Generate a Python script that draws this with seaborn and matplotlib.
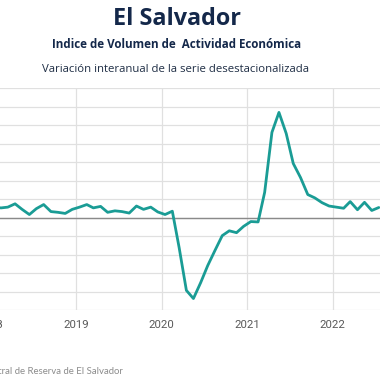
"""
El Salvador - IVAE, variacion interanual (serie desestacionalizada)
"""
import pandas as pd
import numpy as np
import matplotlib
matplotlib.use("Agg")
import matplotlib.pyplot as plt
import matplotlib.dates as mdates
import seaborn as sns

# monthly data, Jan 2018 - Jul 2022 (% y/y)
start_month = "2018-01-01"
ivae_yoy = [
    2.7, 2.6, 2.8, 3.7, 2.2, 0.8, 2.4, 3.5, 1.6, 1.4, 1.1, 2.2,        # 2018
    2.8, 3.5, 2.6, 3.0, 1.4, 1.8, 1.6, 1.2, 3.1, 2.2, 2.8, 1.5,        # 2019
    0.8, 1.7, -8.1, -19.7, -21.9, -17.6, -13.0, -8.9, -4.9, -3.6, -4.1, -2.4,  # 2020
    -1.1, -1.2, 6.8, 23.0, 28.4, 22.7, 14.6, 10.8, 6.2, 5.3, 4.0, 3.1,  # 2021
    2.8, 2.5, 4.3, 2.1, 4.1, 1.9, 2.7,                                 # 2022
]
year_ticks = [2018, 2019, 2020, 2021, 2022]
y_ticks = [-25, -20, -15, -10, -5, 0, 5, 10, 15, 20, 25, 30, 35]

title = "El Salvador"
subtitle = "Indice de Volumen de  Actividad Económica"
subtitle2 = "Variación interanual de la serie desestacionalizada"
source = "Fuente: Banco Central de Reserva de El Salvador"

# points plotted mid-month
dates = pd.date_range(start_month, periods=len(ivae_yoy), freq="MS") + pd.Timedelta(days=15)
df = pd.DataFrame({"fecha": dates, "var": ivae_yoy})

sns.set_theme(style="white")
plt.rcParams["font.family"] = ["Open Sans", "DejaVu Sans"]

W = 380
fig = plt.figure(figsize=(3.8, 3.8), dpi=100)

# the chart is cropped on the left: axes start outside the figure
px_left, px_right = -40, 384
px_2019, px_per_year = 76, 85.6
ax = fig.add_axes([px_left / W, (380 - 310) / 380, (px_right - px_left) / W, 222 / 380])

ref = mdates.date2num(pd.Timestamp("2019-01-01"))
x0 = ref + (px_left - px_2019) / px_per_year * 365.25
x1 = ref + (px_right - px_2019) / px_per_year * 365.25

sns.lineplot(data=df, x="fecha", y="var", color="#1a9c95", linewidth=2.0, ax=ax, zorder=3)
for ln in ax.lines:
    ln.set_solid_joinstyle("round")

ax.set_xlim(x0, x1)
ax.set_ylim(-25, 35)
ax.set_yticks(y_ticks)
ax.set_yticklabels([])
ax.set_xticks([pd.Timestamp(f"{y}-01-01") for y in year_ticks])
ax.set_xticklabels([str(y) for y in year_ticks], fontfamily="Roboto", fontsize=8.2, color="#595959")
ax.tick_params(axis="both", length=0)
ax.tick_params(axis="x", pad=7)
ax.grid(True, color="#e0e0e0", linewidth=0.9)
ax.axhline(0, color="#8a8a8a", linewidth=1.0, zorder=2)
for s in ax.spines.values():
    s.set_visible(False)
ax.set_xlabel("")
ax.set_ylabel("")

fig.text(177 / W, 1 - 19 / 380, title, ha="center", va="center",
         fontsize=16.8, fontweight="bold", color="#14284a")
fig.text(177 / W, 1 - 44 / 380, subtitle, ha="center", va="center",
         fontsize=8.4, fontweight="bold", color="#14284a")
fig.text(176 / W, 1 - 69 / 380, subtitle2, ha="center", va="center",
         fontsize=8.2, color="#1e2d44")
fig.text(123 / W, 1 - 372 / 380, source, ha="right", va="center",
         fontsize=6.9, color="#8c8c8c", fontfamily="Lato")

plt.savefig("out.png", dpi=100)
plt.close()
